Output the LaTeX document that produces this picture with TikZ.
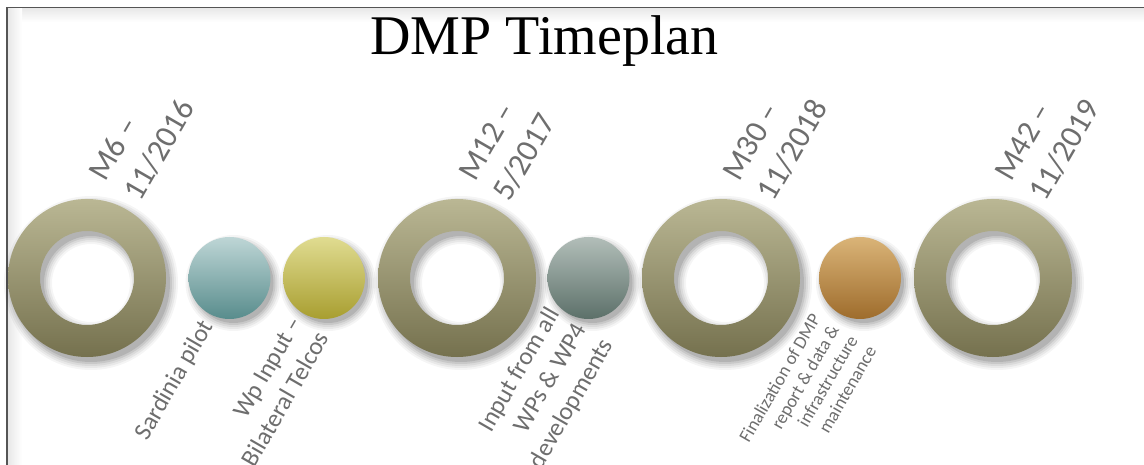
\documentclass[tikz,border=0pt]{standalone}
\usepackage{fontspec}
\setmainfont{Liberation Serif}
\newfontfamily\labelfont{Carlito}
\definecolor{ringtop}{RGB}{186,183,148}
\definecolor{ringbot}{RGB}{117,113,78}
\definecolor{tealtop}{RGB}{190,214,214}
\definecolor{tealbot}{RGB}{88,140,140}
\definecolor{yeltop}{RGB}{224,220,145}
\definecolor{yelbot}{RGB}{168,158,48}
\definecolor{sagetop}{RGB}{178,190,185}
\definecolor{sagebot}{RGB}{92,112,105}
\definecolor{ochretop}{RGB}{218,180,120}
\definecolor{ochrebot}{RGB}{158,108,44}
\definecolor{labelgray}{RGB}{110,110,110}
\definecolor{framegray}{RGB}{85,85,85}
\newcommand\ringshadow[1]{%
  \foreach \s/\o in {0/0.10,2/0.08,4/0.06,6/0.05,8/0.04}{%
    \fill[black,opacity=\o,even odd rule] ([shift={(4,5)}]#1) circle[radius=79pt+\s pt] ([shift={(4,5)}]#1) circle[radius=47pt-\s pt];
  }}
\newcommand\dotshadow[1]{%
  \foreach \s/\o in {0/0.10,2/0.08,4/0.06,6/0.05,8/0.04}{%
    \fill[black,opacity=\o] ([shift={(4,5)}]#1) circle[radius=40pt+\s pt];
  }}
\begin{document}
\begin{tikzpicture}[x=1pt,y=-1pt,
  ring/.style={even odd rule,top color=ringtop,bottom color=ringbot},
  dot/.style={circle,minimum size=82pt,inner sep=0pt},
  mlabel/.style={font=\labelfont\fontsize{32}{40}\selectfont,text=labelgray,rotate=60,align=left,anchor=north west,inner sep=0pt},
  blabel/.style={font=\labelfont\fontsize{25}{31}\selectfont,text=labelgray,rotate=60,align=right,anchor=north east,inner sep=0pt},
  slabel/.style={font=\labelfont\fontsize{18.3}{21.5}\selectfont,text=labelgray,rotate=60,align=right,anchor=north east,inner sep=0pt}]
\useasboundingbox (0,0) rectangle (1144,465);
\fill[white] (0,0) rectangle (1144,465);
% frame with soft inner shadow
\shade[top color=black!9,bottom color=white] (8,8) rectangle (1144,22);
\shade[left color=black!9,right color=white] (8,8) rectangle (22,465);
\draw[framegray,line width=1.5pt] (7,466) -- (7,7.5) -- (1145,7.5);
% centres
\coordinate (r1) at (87,278);
\coordinate (r2) at (457,278);
\coordinate (r3) at (721,278);
\coordinate (r4) at (993,278);
\coordinate (p1) at (229.5,278);
\coordinate (p2) at (324,278);
\coordinate (p3) at (588.5,278);
\coordinate (p4) at (860,278);
% shadows
\ringshadow{r1}\ringshadow{r2}\ringshadow{r3}\ringshadow{r4}
\dotshadow{p1}\dotshadow{p2}\dotshadow{p3}\dotshadow{p4}
% rings
\shade[ring] (r1) circle[radius=79pt] (r1) circle[radius=47pt];
\shade[ring] (r2) circle[radius=79pt] (r2) circle[radius=47pt];
\shade[ring] (r3) circle[radius=79pt] (r3) circle[radius=47pt];
\shade[ring] (r4) circle[radius=79pt] (r4) circle[radius=47pt];
% small discs
\node[dot,top color=tealtop,bottom color=tealbot] (c1) at (p1) {};
\node[dot,top color=yeltop,bottom color=yelbot] (c2) at (p2) {};
\node[dot,top color=sagetop,bottom color=sagebot] (c3) at (p3) {};
\node[dot,top color=ochretop,bottom color=ochrebot] (c4) at (p4) {};
% title
\node[font=\fontsize{56}{60}\selectfont,anchor=base,inner sep=0pt] (title) at (544.5,55) {DMP Timeplan};
% milestone labels
\node[mlabel] (m1) at (87,172) {M6 \textendash\\11/2016};
\node[mlabel] (m2) at (457,172) {M12 \textendash\\5/2017};
\node[mlabel] (m3) at (721,172) {M30 \textendash\\11/2018};
\node[mlabel] (m4) at (993,172) {M42 \textendash\\11/2019};
% activity labels
\node[blabel] (a1) at (199,317) {Sardinia pilot};
\node[blabel] (a2) at (289,314) {Wp Input \textendash\\Bilateral Telcos};
\node[blabel] (a3) at (545,305) {Input from all\\WPs \& WP4\\developments};
\node[slabel] (a4) at (810,312) {Finalization of DMP\\report \& data \&\\infrastructure\\maintenance};
\end{tikzpicture}
\end{document}
